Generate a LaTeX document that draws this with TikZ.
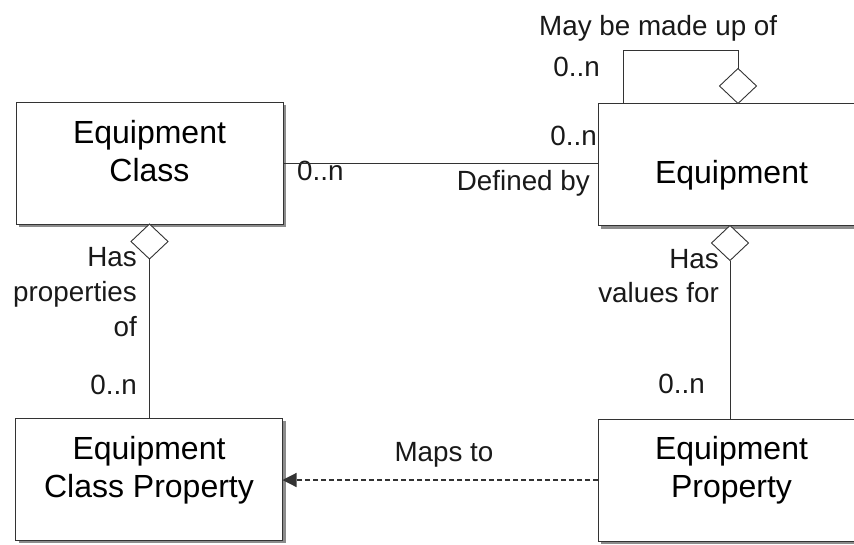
\documentclass[tikz,border=0pt]{standalone}
\usepackage{fontspec}
\setmainfont{Liberation Sans}
\usetikzlibrary{shapes.geometric,arrows.meta,shadows,calc}
\begin{document}
\begin{tikzpicture}[x=1pt,y=-1pt,
  box/.style={draw=black!80, line width=1pt, fill=white, minimum width=267pt, minimum height=122pt,
    inner sep=0pt, outer sep=0pt,
    drop shadow={shadow xshift=3pt, shadow yshift=-3pt, fill=black!45, opacity=1}},
  boxtext/.style={font=\fontsize{32}{38}\selectfont, align=center, inner sep=0pt},
  lbl/.style={font=\fontsize{27.8}{35}\selectfont, inner sep=0pt, text=black!90},
  link/.style={draw=black!80, line width=1pt},
  agg/.style={diamond, draw=black!80, line width=0.9pt, fill=white, minimum width=37pt,
    minimum height=35pt, inner sep=0pt, outer sep=0pt}]
\useasboundingbox (0,0) rectangle (854,544);
\clip (0,0) rectangle (854,544);

% labels
\node[lbl, anchor=base west] (m1) at (297,180) {0..n};
\node[lbl, anchor=base east] (m2) at (597,145) {0..n};
\node[lbl, anchor=base east] (def) at (590,190) {Defined by};
\node[lbl, anchor=base west] (may) at (539,35) {May be made up of};
\node[lbl, anchor=base east] (m3) at (600,76) {0..n};
\node[lbl, anchor=base east] (h1) at (137,266) {Has};
\node[lbl, anchor=base east] (h1b) at (137,301) {properties};
\node[lbl, anchor=base east] (h1c) at (137,336) {of};
\node[lbl, anchor=base east] (m4) at (137,394) {0..n};
\node[lbl, anchor=base east] (h2) at (719,268) {Has};
\node[lbl, anchor=base east] (h2b) at (719,302) {values for};
\node[lbl, anchor=base east] (m5) at (705,393) {0..n};
\node[lbl, anchor=base] (maps) at (444,461) {Maps to};

% boxes
\node[box] (ec) at (149.5,163) {};
\node[box] (eq) at (731.5,164.5) {};
\node[box] (ecp) at (149,479) {};
\node[box] (ep) at (731.5,480) {};

% box texts (anchor base = baseline of the last line)
\node[boxtext, anchor=base] (ect) at (149.5,181) {Equipment\\Class};
\node[boxtext, anchor=base] (eqt) at (731.5,183) {Equipment};
\node[boxtext, anchor=base] (ecpt) at (149,497) {Equipment\\Class Property};
\node[boxtext, anchor=base] (ept) at (731.5,497) {Equipment\\Property};

% aggregation diamonds
\node[agg, anchor=north] (d1) at (ec.south) {};
\node[agg, anchor=north] (d2) at ([xshift=-1.5pt]eq.south) {};
\node[agg, anchor=south] (d3) at ([xshift=6.5pt]eq.north) {};

% connectors
\draw[link] (ec.east) -- (ec.east -| eq.west);
\draw[link] (d1.south) -- (d1.south |- ecp.north);
\draw[link] (d2.south) -- (d2.south |- ep.north);
\draw[link] (d3.north) -- ++(0,-18) -| ([xshift=25pt]eq.north west);
\draw[link, line width=1.2pt, dash pattern=on 5pt off 3pt, -{Triangle[length=14pt,width=14pt]}]
  (ep.west) -- (ep.west -| ecp.east);
\end{tikzpicture}
\end{document}
